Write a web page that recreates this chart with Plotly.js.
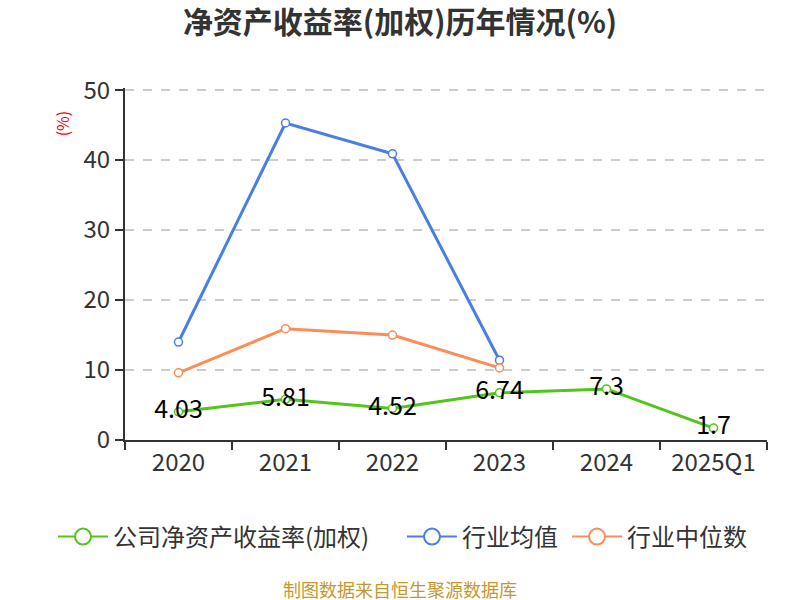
<!DOCTYPE html>
<html>
<head>
<meta charset="utf-8">
<script src="https://cdn.plot.ly/plotly-3.0.1.min.js"></script>
<style>html,body{margin:0;padding:0;background:#fff;}#chart{width:800px;height:600px;}</style>
</head>
<body>
<div id="chart"></div>
<script>
const categories = ["2020", "2021", "2022", "2023", "2024", "2025Q1"];
const companyRoe = [4.03, 5.81, 4.52, 6.74, 7.3, 1.7];
const industryMean = [14.0, 45.3, 40.9, 11.4, null, null];
const industryMedian = [9.6, 15.9, 15.0, 10.3, null, null];
const seriesNames = ["公司净资产收益率(加权)", "行业均值", "行业中位数"];
const seriesColors = ["#52c41a", "#4a7fe0", "#ff8c57"];
const yTicks = [0, 10, 20, 30, 40, 50];

const FONT = '"Noto Sans CJK SC", "Noto Sans", sans-serif';

function mk(y, name, color, withText) {
  const t = {
    x: categories, y: y, name: name, type: 'scatter',
    mode: withText ? 'lines+markers+text' : 'lines+markers',
    line: {color: color, width: 3},
    marker: {symbol: 'circle', size: 8, color: '#ffffff', line: {color: color, width: 1.5}},
    connectgaps: false, cliponaxis: false, showlegend: false
  };
  if (withText) {
    t.text = y.map(v => String(v));
    t.textposition = 'middle center';
    t.textfont = {family: FONT, size: 25, color: '#000000'};
  }
  return t;
}

function legendItem(name, color, legendId) {
  return {
    x: [null], y: [null], name: name, type: 'scatter', mode: 'lines+markers',
    line: {color: color, width: 2},
    marker: {symbol: 'circle', size: 16, color: '#ffffff', line: {color: color, width: 2}},
    showlegend: true, hoverinfo: 'skip', legend: legendId
  };
}

const data = [
  mk(companyRoe, seriesNames[0], seriesColors[0], true),
  mk(industryMean, seriesNames[1], seriesColors[1], false),
  mk(industryMedian, seriesNames[2], seriesColors[2], false),
  legendItem(seriesNames[0], seriesColors[0], 'legend'),
  legendItem(seriesNames[1], seriesColors[1], 'legend2'),
  legendItem(seriesNames[2], seriesColors[2], 'legend3')
];

function legendAt(xpx) {
  return {orientation: 'h', xref: 'container', yref: 'container', x: xpx / 800, xanchor: 'left',
          y: 0.105, yanchor: 'middle', itemwidth: 50, bgcolor: 'rgba(0,0,0,0)',
          font: {family: FONT, size: 24, color: '#333333'}};
}

const layout = {
  width: 800, height: 600,
  margin: {l: 125, r: 33, t: 88, b: 160},
  paper_bgcolor: '#ffffff', plot_bgcolor: '#ffffff',
  font: {family: FONT, color: '#333333'},
  title: {text: '<b>净资产收益率(加权)历年情况(%)</b>', xref: 'container', x: 0.5, xanchor: 'center',
          yref: 'container', y: 0.962, yanchor: 'middle',
          font: {family: FONT, size: 30, color: '#333333'}},
  showlegend: true,
  legend: legendAt(53),
  legend2: legendAt(402),
  legend3: legendAt(567),
  xaxis: {
    type: 'category', range: [-0.5, 5.5],
    showline: true, linecolor: '#333333', linewidth: 2,
    ticks: 'outside', tickson: 'boundaries', ticklen: 8, tickwidth: 2, tickcolor: '#333333',
    showgrid: false, zeroline: false,
    tickfont: {family: FONT, size: 24, color: '#333333'}
  },
  yaxis: {
    range: [0, 50.3], tickvals: yTicks, ticktext: yTicks.map(String),
    showline: true, linecolor: '#333333', linewidth: 2,
    ticks: 'outside', ticklen: 8, tickwidth: 2, tickcolor: '#333333',
    showgrid: true, gridcolor: '#cccccc', griddash: 'dash', gridwidth: 1.5,
    zeroline: false,
    tickfont: {family: FONT, size: 24, color: '#333333'}
  },
  annotations: [
    {text: '(%)', xref: 'paper', yref: 'paper', x: -0.098, y: 0.9, textangle: -90, showarrow: false,
     font: {family: FONT, size: 16, color: '#ff0000'}, xanchor: 'center', yanchor: 'middle'},
    {text: '制图数据来自恒生聚源数据库', xref: 'paper', yref: 'paper', x: 0.428, y: -0.422, showarrow: false,
     font: {family: FONT, size: 18, color: '#c8962e'}, xanchor: 'center', yanchor: 'middle'}
  ]
};

Plotly.newPlot('chart', data, layout, {displayModeBar: false, staticPlot: true});
</script>
</body>
</html>
